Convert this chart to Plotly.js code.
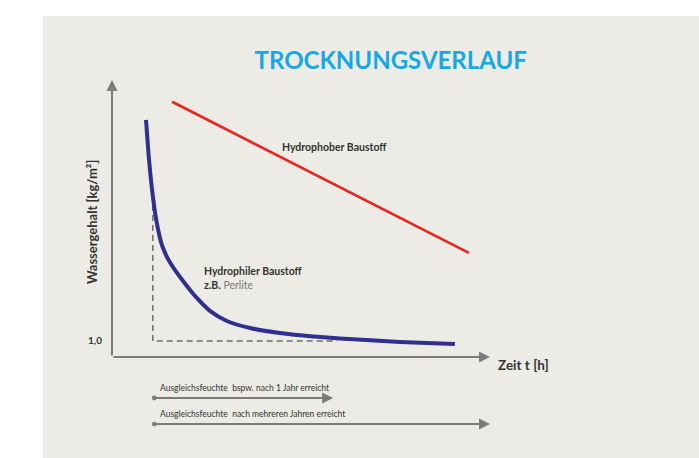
<!DOCTYPE html>
<html>
<head>
<meta charset="utf-8">
<script src="https://cdn.plot.ly/plotly-3.0.1.min.js"></script>
<style>html,body{margin:0;padding:0;background:#fff;}#chart{width:699px;height:458px;}</style>
</head>
<body>
<div id="chart"></div>
<script>
// Hydrophiler Baustoff (z.B. Perlite): Zeit vs. Wassergehalt
var hydrophilT = [0.90, 0.98, 1.08, 1.19, 1.32, 1.48, 1.72, 1.96, 2.22, 2.59, 3.04, 3.65, 4.44, 5.32, 6.03, 7.62, 9.07];
var hydrophilW = [14.81, 12.31, 10.06, 8.31, 7.0, 6.13, 5.25, 4.5, 3.75, 2.88, 2.25, 1.81, 1.5, 1.28, 1.16, 0.94, 0.81];
// Hydrophober Baustoff
var hydrophobT = [1.59, 9.44];
var hydrophobW = [15.94, 6.5];
// Ausgleichsfeuchte guide (dashed)
var guideT = [1.08, 1.08, 5.96];
var guideW = [9.5, 1.0, 1.0];
// tick labels
var yTickVals = [1.0];
var yTickText = ['1,0'];
// axis extents
var tMax = 10.0;
var wMax = 17.3;
// time-span arrows below the chart
var spanStart = [1.08, 1.08];
var spanEnd = [5.85, 10.0];
var spanLabels = ['Ausgleichsfeuchte  bspw. nach 1 Jahr erreicht', 'Ausgleichsfeuchte  nach mehreren Jahren erreicht'];
var spanLevel = [-0.148, -0.242];   // paper units below the time axis

var axisGrey = '#7b7b7b';
var textCol = '#333333';
var fontFam = 'Lato, "Open Sans", sans-serif';

var traces = [
  {x: guideT, y: guideW, mode: 'lines', line: {color: '#6d6d6d', width: 1.5, dash: '6px,4px'}, hoverinfo: 'skip', cliponaxis: false},
  {x: hydrophobT, y: hydrophobW, mode: 'lines', line: {color: '#e8261d', width: 2.6}, hoverinfo: 'skip', cliponaxis: false},
  {x: hydrophilT, y: hydrophilW, mode: 'lines', line: {color: '#2e2f8f', width: 4, shape: 'spline', smoothing: 0.6}, hoverinfo: 'skip', cliponaxis: false}
];

var annotations = [
  // y axis arrow
  {x: 0, y: wMax, ax: 0, ay: 0, xref: 'x', yref: 'y', axref: 'x', ayref: 'y', showarrow: true, arrowhead: 2, arrowsize: 1.1, arrowwidth: 2, arrowcolor: axisGrey, text: ''},
  // x axis arrow
  {x: tMax, y: 0, ax: 0, ay: 0, xref: 'x', yref: 'y', axref: 'x', ayref: 'y', showarrow: true, arrowhead: 2, arrowsize: 1.1, arrowwidth: 2, arrowcolor: axisGrey, text: ''},
  {x: tMax, y: 0, xref: 'x', yref: 'y', xanchor: 'left', yanchor: 'middle', xshift: 6, yshift: -8, showarrow: false, text: '<b>Zeit t [h]</b>', font: {family: fontFam, size: 13.5, color: textCol}},
  {x: 5.89, y: 13.1, xref: 'x', yref: 'y', xanchor: 'center', yanchor: 'middle', showarrow: false, text: '<b>Hydrophober Baustoff</b>', font: {family: fontFam, size: 10.5, color: textCol}},
  {x: 2.38, y: 5.4, xref: 'x', yref: 'y', xanchor: 'left', yanchor: 'middle', showarrow: false, text: '<b>Hydrophiler Baustoff</b>', font: {family: fontFam, size: 10.5, color: textCol}},
  {x: 2.38, y: 4.5, xref: 'x', yref: 'y', xanchor: 'left', yanchor: 'middle', showarrow: false, text: '<b>z.B.</b> <span style="color:#7a7a7a">Perlite</span>', font: {family: fontFam, size: 10.5, color: textCol}},
  // y axis title
  {x: -0.053, y: 0.487, xref: 'paper', yref: 'paper', xanchor: 'center', yanchor: 'middle', textangle: -90, showarrow: false, text: '<b>Wassergehalt [kg/m²]</b>', font: {family: fontFam, size: 13, color: textCol}}
];

for (var i = 0; i < spanLabels.length; i++) {
  annotations.push({x: spanEnd[i], y: spanLevel[i], ax: spanStart[i], ay: 0, xref: 'x', yref: 'paper', axref: 'x', ayref: 'pixel', showarrow: true, arrowhead: 2, arrowsize: 1.1, arrowwidth: 2, arrowcolor: axisGrey, arrowside: 'end+start', startarrowhead: 6, startarrowsize: 0.6, text: ''});
  annotations.push({x: spanStart[i] + 0.15, y: spanLevel[i], xref: 'x', yref: 'paper', xanchor: 'left', yanchor: 'bottom', yshift: 3, showarrow: false, text: spanLabels[i], font: {family: fontFam, size: 8.5, color: textCol}});
}

var layout = {
  width: 699, height: 458,
  margin: {l: 112, r: 209, t: 80, b: 101, pad: 0},
  paper_bgcolor: '#ffffff',
  plot_bgcolor: 'rgba(0,0,0,0)',
  showlegend: false,
  title: {text: '<b>TROCKNUNGSVERLAUF</b>', x: 0.559, xref: 'container', xanchor: 'center', y: 0.867, yref: 'container', yanchor: 'middle', font: {family: fontFam, size: 24, color: '#14a8e6'}},
  xaxis: {range: [0, tMax], showgrid: false, zeroline: false, showline: false, showticklabels: false, ticks: '', fixedrange: true},
  yaxis: {range: [0, wMax], showgrid: false, zeroline: false, showline: false, tickvals: yTickVals, ticktext: yTickText, ticks: '', ticklabelstandoff: 9, tickfont: {family: fontFam, size: 10, weight: 'bold', color: textCol}, fixedrange: true},
  shapes: [
    {type: 'rect', xref: 'paper', yref: 'paper', x0: -0.1825, x1: 1.56, y0: -0.37, y1: 1.231, fillcolor: '#edebe6', line: {width: 0}, layer: 'below'}
  ],
  annotations: annotations
};

Plotly.newPlot('chart', traces, layout, {displayModeBar: false, staticPlot: true});
</script>
</body>
</html>
